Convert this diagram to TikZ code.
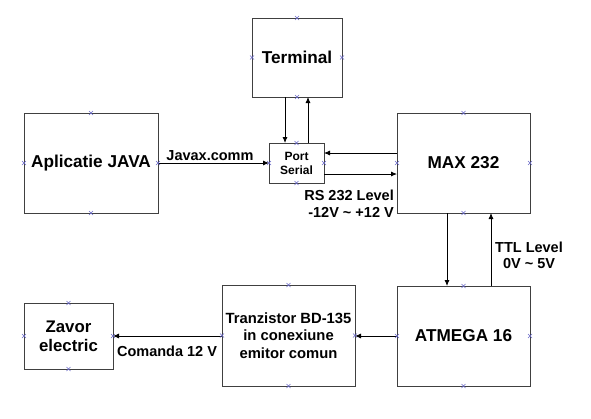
\documentclass[tikz,border=0pt]{standalone}
\usepackage{fontspec}
\setmainfont{Liberation Sans}
\usetikzlibrary{arrows.meta,calc}
\definecolor{markblue}{HTML}{6A6AC8}
\definecolor{edgegray}{HTML}{404040}
\begin{document}
\begin{tikzpicture}[x=1pt,y=-1pt,
  blk/.style={draw=edgegray,line width=0.8pt,inner sep=0pt,outer sep=0pt,align=center,font=\bfseries\fontsize{17.2}{19.5}\selectfont},
  arr/.style={draw=black,line width=0.8pt,-{Latex[length=6pt,width=5pt]}},
  lbl/.style={font=\bfseries\fontsize{14.5}{17}\selectfont,inner sep=0pt,align=center},
  cross/.style={draw=markblue,line width=0.6pt}]
\useasboundingbox (0,0) rectangle (591,418);
\fill[white] (0,0) rectangle (591,418);
\node[blk,minimum width=90pt,minimum height=79pt] (term) at (297,57.5) {Terminal};
\node[blk,minimum width=134pt,minimum height=100pt] (java) at (91,163) {Aplicatie JAVA};
\node[blk,minimum width=55pt,minimum height=40pt,font=\bfseries\fontsize{12}{14}\selectfont] (port) at (296.5,163) {Port\\Serial};
\node[blk,minimum width=133pt,minimum height=100pt] (max) at (463.5,163) {MAX 232};
\node[blk,minimum width=133pt,minimum height=100pt] (atm) at (463.5,336) {ATMEGA 16};
\node[blk,minimum width=133pt,minimum height=101pt,font=\bfseries\fontsize{14.8}{17.5}\selectfont] (tranz) at (288.5,335.5) {Tranzistor BD-135\\in conexiune\\emitor comun};
\node[blk,minimum width=89pt,minimum height=66pt,font=\bfseries\fontsize{16.8}{19}\selectfont] (zav) at (68.5,336) {Zavor\\electric};
% connectors
\draw[arr] (285,0 |- term.south) -- (285,0 |- port.north);
\draw[arr] (308,0 |- port.north) -- (308,0 |- term.south);
\draw[arr] (java.east) -- (port.west);
\draw[arr] (0,153 -| max.west) -- (0,153 -| port.east);
\draw[arr] (0,174 -| port.east) -- (0,174 -| max.west);
\draw[arr] (447,0 |- max.south) -- (447,0 |- atm.north);
\draw[arr] (491,0 |- atm.north) -- (491,0 |- max.south);
\draw[arr] (atm.west) -- (0,336 -| tranz.east);
\draw[arr] (0,336 -| tranz.west) -- (0,336 -| zav.east);
% labels
\node[lbl] (l1) at (210,156) {Javax.comm};
\node[lbl,anchor=east] (l2) at (394,195) {RS 232 Level};
\node[lbl,anchor=east] (l3) at (394,212) {-12V \textasciitilde\ +12 V};
\node[lbl] (l4) at (529,247) {TTL Level};
\node[lbl] (l5) at (529,264) {0V \textasciitilde\ 5V};
\node[lbl] (l6) at (167,351) {Comanda 12 V};
% connection markers
\foreach \n in {term,java,port,max,atm,tranz,zav}{
  \foreach \a in {north,south,east,west}{
    \draw[cross] ($(\n.\a)+(-2,-2)$) -- ($(\n.\a)+(2,2)$) ($(\n.\a)+(-2,2)$) -- ($(\n.\a)+(2,-2)$);
  }
}
\end{tikzpicture}
\end{document}
